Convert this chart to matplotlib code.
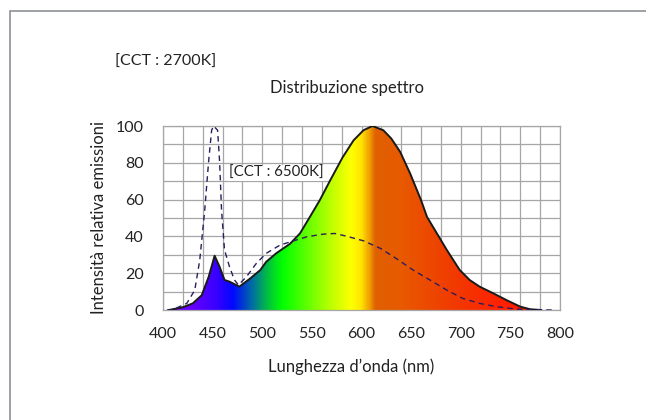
import numpy as np
import matplotlib
matplotlib.use("Agg")
import matplotlib.pyplot as plt
from matplotlib.colors import LinearSegmentedColormap
from matplotlib.patches import Rectangle

plt.rcParams['font.family'] = ['Lato', 'DejaVu Sans']

### data ###

# CCT 2700K (solid, filled)
wl_2700 = [406, 420, 430, 439, 446, 452, 457, 462, 467, 477, 488, 498, 504, 514,
           528, 538, 548, 558, 568, 581, 592, 602, 611, 622, 630, 639, 649, 660,
           666, 676, 686, 699, 709, 719, 733, 746, 760, 770, 781]
val_2700 = [0, 1.5, 3.6, 8, 18, 29.5, 23.5, 16.3, 15.4, 12.7, 17.2, 21.7, 26.2, 30.8,
            36, 41.6, 50.6, 59.7, 70, 83, 92.2, 97.7, 100, 97.7, 93.2, 85.9, 74.2, 59.7,
            50.6, 41.6, 32.6, 21.7, 16.3, 12.7, 9, 5.4, 1.8, 0.4, 0]

# CCT 6500K (dashed)
wl_6500 = [404, 409, 424, 432, 437, 442, 446, 449, 451, 455, 457, 459, 462, 467,
           472, 476, 484, 494, 504, 518, 528, 545, 561, 573, 585, 602, 619, 635,
           652, 669, 686, 702, 719, 736, 756, 786, 792]
val_6500 = [0, 0, 3.6, 10.8, 27, 54, 81, 97.7, 100, 97.7, 81, 54, 32.6, 23.5,
            16.3, 13.6, 18, 25.3, 30.8, 35.3, 37, 39.8, 41.2, 41.6, 40.1, 37.6, 33.5, 28,
            21.7, 16.3, 10.8, 6.3, 3.6, 1.8, 0.5, 0, 0]

# spectrum colours along the wavelength axis
spec_nm = [400, 430, 455, 470, 490, 505, 520, 545, 570, 590, 600, 608, 614, 640, 690, 740, 800]
spec_col = ['#8000ff', '#6400ff', '#3400ff', '#0008ff', '#0070a0', '#00c040', '#00ff00',
            '#60ff00', '#c0ff00', '#ffff00', '#ffe400', '#f0a000', '#e06000', '#e85a00',
            '#f03c00', '#ff2200', '#ff1000']

x_ticks = [400, 450, 500, 550, 600, 650, 700, 750, 800]
y_ticks = [0, 20, 40, 60, 80, 100]

### figure ###

fig = plt.figure(figsize=(6.46, 4.2), dpi=100)
fig.patches.append(Rectangle((10 / 646, -0.1), 1.2, 1 - 11 / 420 + 0.1, transform=fig.transFigure,
                             fill=False, edgecolor='#8c9196', lw=1.2))

ax = fig.add_axes([163 / 646, 1 - 310 / 420, 397 / 646, 184 / 420])
ax.set_xlim(400, 800)
ax.set_ylim(0, 100)

# grid
for gx in np.arange(400, 801, 20):
    ax.axvline(gx, color='#a6a6a6', lw=0.9, zorder=0)
for gy in np.arange(0, 101, 10):
    ax.axhline(gy, color='#a6a6a6', lw=0.9, zorder=0)

# gradient fill under the 2700K curve
stops = [(n - 400) / 400 for n in spec_nm]
cmap = LinearSegmentedColormap.from_list('spec', list(zip(stops, spec_col)))
grad = np.linspace(0, 1, 800).reshape(1, -1)
poly = ax.fill_between(wl_2700, val_2700, 0, color='none', lw=0)
im = ax.imshow(grad, cmap=cmap, extent=[400, 800, 0, 100], aspect='auto', zorder=2)
im.set_clip_path(poly.get_paths()[0], transform=ax.transData)

ax.plot(wl_2700, val_2700, color='#1a1a1a', lw=1.4, zorder=4, solid_joinstyle='round')
ax.plot(wl_6500, val_6500, color='#2b1d5c', lw=1.0, ls=(0, (4, 3)), zorder=5)

ax.set_xticks(x_ticks)
ax.set_yticks(y_ticks)
ax.tick_params(length=0, labelsize=11.5, colors='#222222')
ax.tick_params(axis='x', pad=12)
ax.tick_params(axis='y', pad=14)
for s in ax.spines.values():
    s.set_color('#a6a6a6')
    s.set_linewidth(0.9)

ax.text(466, 74.4, '[CCT : 6500K]', fontsize=10.8, color='#222222', zorder=6, va='center',
        bbox=dict(facecolor='white', edgecolor='none', pad=0.5))

fig.text(115 / 646, 1 - 62 / 420, '[CCT : 2700K]', fontsize=11.5, color='#222222', va='center')
fig.text(347 / 646, 1 - 88 / 420, 'Distribuzione spettro', fontsize=12, color='#222222',
         ha='center', va='center')
fig.text(351 / 646, 1 - 367 / 420, 'Lunghezza d’onda (nm)', fontsize=12, color='#222222',
         ha='center', va='center')
fig.text(99 / 646, 1 - 218 / 420, 'Intensità relativa emissioni', fontsize=12, color='#222222',
         ha='center', va='center', rotation=90)

fig.savefig('out.png', dpi=100)
